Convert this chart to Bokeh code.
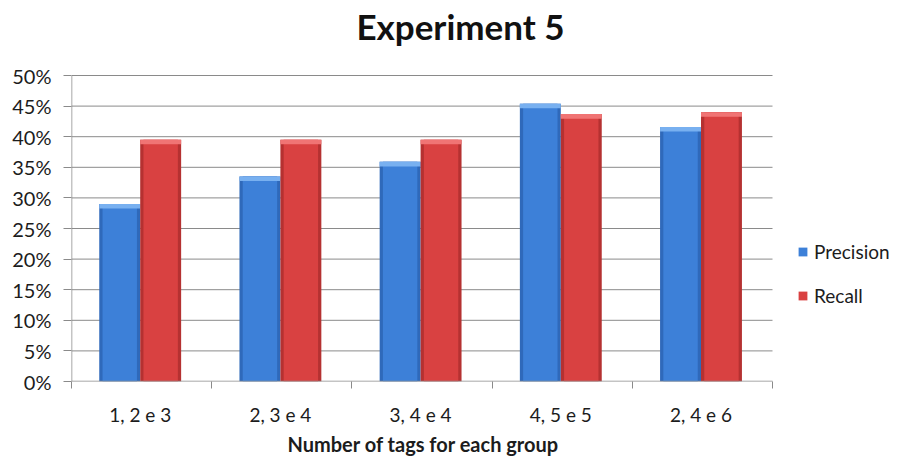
from bokeh.plotting import figure
from bokeh.models import (FixedTicker, NumeralTickFormatter, Legend, LegendItem,
                          ColumnDataSource, Range1d, Title, Label)
from bokeh.embed import file_html
from bokeh.resources import INLINE

# ---- data ----
categories = ["1, 2 e 3", "2, 3 e 4", "3, 4 e 4", "4, 5 e 5", "2, 4 e 6"]
precision = [0.290, 0.335, 0.359, 0.454, 0.416]
recall = [0.395, 0.395, 0.395, 0.437, 0.440]
y_ticks = [0.0, 0.05, 0.10, 0.15, 0.20, 0.25, 0.30, 0.35, 0.40, 0.45, 0.50]
title_text = "Experiment 5"
x_label = "Number of tags for each group"
series_names = ["Precision", "Recall"]

FONT = "Lato"
TXT = "#1c1c1c"
GRID = "#8a8a8a"

# layout (pixels): plot area 701 x 306, left border 71, bottom border 77
W, H = 895, 458
LEFT, BOTTOM = 71, 77
PLOT_W, PLOT_H = 701, 306
n = len(categories)
y_max = y_ticks[-1]
x_end = n * (W - LEFT) / PLOT_W            # frame extends right for the legend
y_end = y_max * (H - BOTTOM) / PLOT_H      # frame extends up for the title

p = figure(width=W, height=H, output_backend="svg", toolbar_location=None,
           x_range=Range1d(0, x_end), y_range=Range1d(0, y_end),
           min_border_left=LEFT, min_border_right=0, min_border_top=0,
           min_border_bottom=BOTTOM, title=None)
p.outline_line_color = None
p.background_fill_color = "white"
p.border_fill_color = "white"
p.xgrid.grid_line_color = None
p.ygrid.grid_line_color = None

# horizontal gridlines limited to the plot area
p.segment(x0=[0] * (len(y_ticks) - 1), x1=[n] * (len(y_ticks) - 1),
          y0=y_ticks[1:], y1=y_ticks[1:], line_color=GRID, line_width=1)

centers = [i + 0.49 for i in range(n)]
bw = 0.292
off = bw / 2
cap = 0.0075

def draw_series(vals, offset, edge, main, light):
    xs = [c + offset for c in centers]
    src = ColumnDataSource(dict(x=xs, top=vals, captop=vals,
                                capbot=[v - cap for v in vals]))
    p.vbar(x="x", top="top", bottom=0, width=bw, source=src,
           fill_color=edge, line_color=None)
    r = p.vbar(x="x", top="top", bottom=0, width=bw * 0.84, source=src,
               fill_color=main, line_color=None)
    p.vbar(x="x", top="captop", bottom="capbot", width=bw, source=src,
           fill_color=light, line_color=None)
    return r

rb = draw_series(precision, -off, "#2f69ba", "#3d80d8", "#78b0f0")
rr = draw_series(recall, off, "#b53131", "#d94141", "#f07474")

# axis lines limited to the plot area
p.segment(x0=[0, 0], x1=[n, 0], y0=[0, 0], y1=[0, y_max],
          line_color=GRID, line_width=1.5)

# axes
xa = p.xaxis[0]
xa.ticker = FixedTicker(ticks=centers, minor_ticks=list(range(n + 1)))
xa.major_label_overrides = {c: lab for c, lab in zip(centers, categories)}
xa.major_tick_out = 0
xa.major_tick_in = 0
xa.minor_tick_out = 7
xa.minor_tick_in = 0
xa.minor_tick_line_color = GRID
xa.axis_line_color = None
xa.major_label_text_font = FONT
xa.major_label_text_font_size = "19px"
xa.major_label_text_color = TXT
xa.major_label_standoff = 14

ya = p.yaxis[0]
ya.ticker = FixedTicker(ticks=y_ticks, minor_ticks=[])
ya.formatter = NumeralTickFormatter(format="0%")
ya.major_tick_out = 8
ya.major_tick_in = 0
ya.major_tick_line_color = GRID
ya.axis_line_color = None
ya.major_label_text_font = FONT
ya.major_label_text_font_size = "20px"
ya.major_label_text_color = TXT
ya.major_label_standoff = 12

# x axis title (below the tick labels)
p.add_layout(Title(text=x_label, align="left", offset=216, standoff=3,
                   vertical_align="bottom",
                   text_font=FONT, text_font_style="bold", text_font_size="20px",
                   text_color=TXT), "below")

# chart title
p.add_layout(Label(x=n * 389 / PLOT_W, y=y_max * (306 + 50) / PLOT_H,
                   text=title_text, text_align="center", text_baseline="middle",
                   text_font=FONT, text_font_style="bold", text_font_size="35px",
                   text_color="#111111"))

legend = Legend(items=[LegendItem(label=series_names[0], renderers=[rb]),
                       LegendItem(label=series_names[1], renderers=[rr])],
                location=(726, 74), orientation="vertical",
                glyph_width=11, glyph_height=11, label_standoff=6, spacing=21,
                padding=0, margin=0, border_line_color=None,
                background_fill_alpha=0,
                label_text_font=FONT, label_text_font_size="19px",
                label_text_color=TXT)
p.add_layout(legend, "center")

open("out.html", "w").write(file_html(p, INLINE))
